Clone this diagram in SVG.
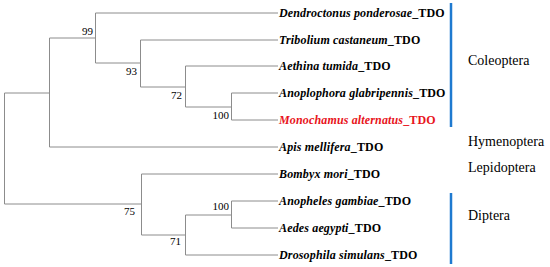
<svg xmlns="http://www.w3.org/2000/svg" width="550" height="267" viewBox="0 0 550 267">
<style>
.br{stroke:#8c8c8c;stroke-width:1;fill:none}
.sp{font-family:'Liberation Serif','Times New Roman',serif;font-size:12px;letter-spacing:0.15px;font-weight:bold;font-style:italic;fill:#000}
.t{font-style:normal}
.bs{font-family:'Liberation Serif','Times New Roman',serif;font-size:11px;fill:#000;text-anchor:end}
.grp{font-family:'Liberation Serif','Times New Roman',serif;font-size:14px;fill:#000}
.bar{stroke:#1f7ad0;stroke-width:2.5}
</style>
<rect width="550" height="267" fill="#fff"/>
<g id="connectors">
<path class="br" d="M4.5 93V204M4.5 93H49M4.5 204H141"/>
<path class="br" d="M49.5 38V147M49.5 38H95M49.5 147H278"/>
<path class="br" d="M95.5 13V63M95.5 13H278M95.5 63H140"/>
<path class="br" d="M140.5 40V87M140.5 40H278M140.5 87H185"/>
<path class="br" d="M185.5 66V107M185.5 66H278M185.5 107H231"/>
<path class="br" d="M231.5 93V120M231.5 93H278M231.5 120H278"/>
<path class="br" d="M141.5 174V235M141.5 174H278M141.5 235H185"/>
<path class="br" d="M185.5 215V255M185.5 215H231M185.5 255H278"/>
<path class="br" d="M231.5 201V228M231.5 201H278M231.5 228H278"/>
</g>
<g id="bootstrap">
<text class="bs" x="93" y="35">99</text>
<text class="bs" x="137" y="75">93</text>
<text class="bs" x="182" y="99">72</text>
<text class="bs" x="229" y="119">100</text>
<text class="bs" x="135" y="215">75</text>
<text class="bs" x="181" y="245">71</text>
<text class="bs" x="229" y="210">100</text>
</g>
<g id="leaf-dendroctonus"><text class="sp" x="279" y="17">Dendroctonus ponderosae<tspan class="t">_TDO</tspan></text></g>
<g id="leaf-tribolium"><text class="sp" x="279" y="44">Tribolium castaneum<tspan class="t">_TDO</tspan></text></g>
<g id="leaf-aethina"><text class="sp" x="279" y="70">Aethina tumida<tspan class="t">_TDO</tspan></text></g>
<g id="leaf-anoplophora"><text class="sp" x="279" y="97">Anoplophora glabripennis<tspan class="t">_TDO</tspan></text></g>
<g id="leaf-monochamus"><text class="sp" x="279" y="124" style="fill:#e8141b">Monochamus alternatus<tspan class="t">_TDO</tspan></text></g>
<g id="leaf-apis"><text class="sp" x="279" y="151">Apis mellifera<tspan class="t">_TDO</tspan></text></g>
<g id="leaf-bombyx"><text class="sp" x="279" y="178">Bombyx mori<tspan class="t">_TDO</tspan></text></g>
<g id="leaf-anopheles"><text class="sp" x="279" y="205">Anopheles gambiae<tspan class="t">_TDO</tspan></text></g>
<g id="leaf-aedes"><text class="sp" x="279" y="232">Aedes aegypti<tspan class="t">_TDO</tspan></text></g>
<g id="leaf-drosophila"><text class="sp" x="279" y="259">Drosophila simulans<tspan class="t">_TDO</tspan></text></g>
<g id="group-coleoptera"><line class="bar" x1="451" y1="3" x2="451" y2="127"/><text class="grp" x="468" y="65">Coleoptera</text></g>
<g id="group-hymenoptera"><text class="grp" x="468" y="146">Hymenoptera</text></g>
<g id="group-lepidoptera"><text class="grp" x="468" y="172">Lepidoptera</text></g>
<g id="group-diptera"><line class="bar" x1="451" y1="193" x2="451" y2="264"/><text class="grp" x="468" y="220">Diptera</text></g>
</svg>
